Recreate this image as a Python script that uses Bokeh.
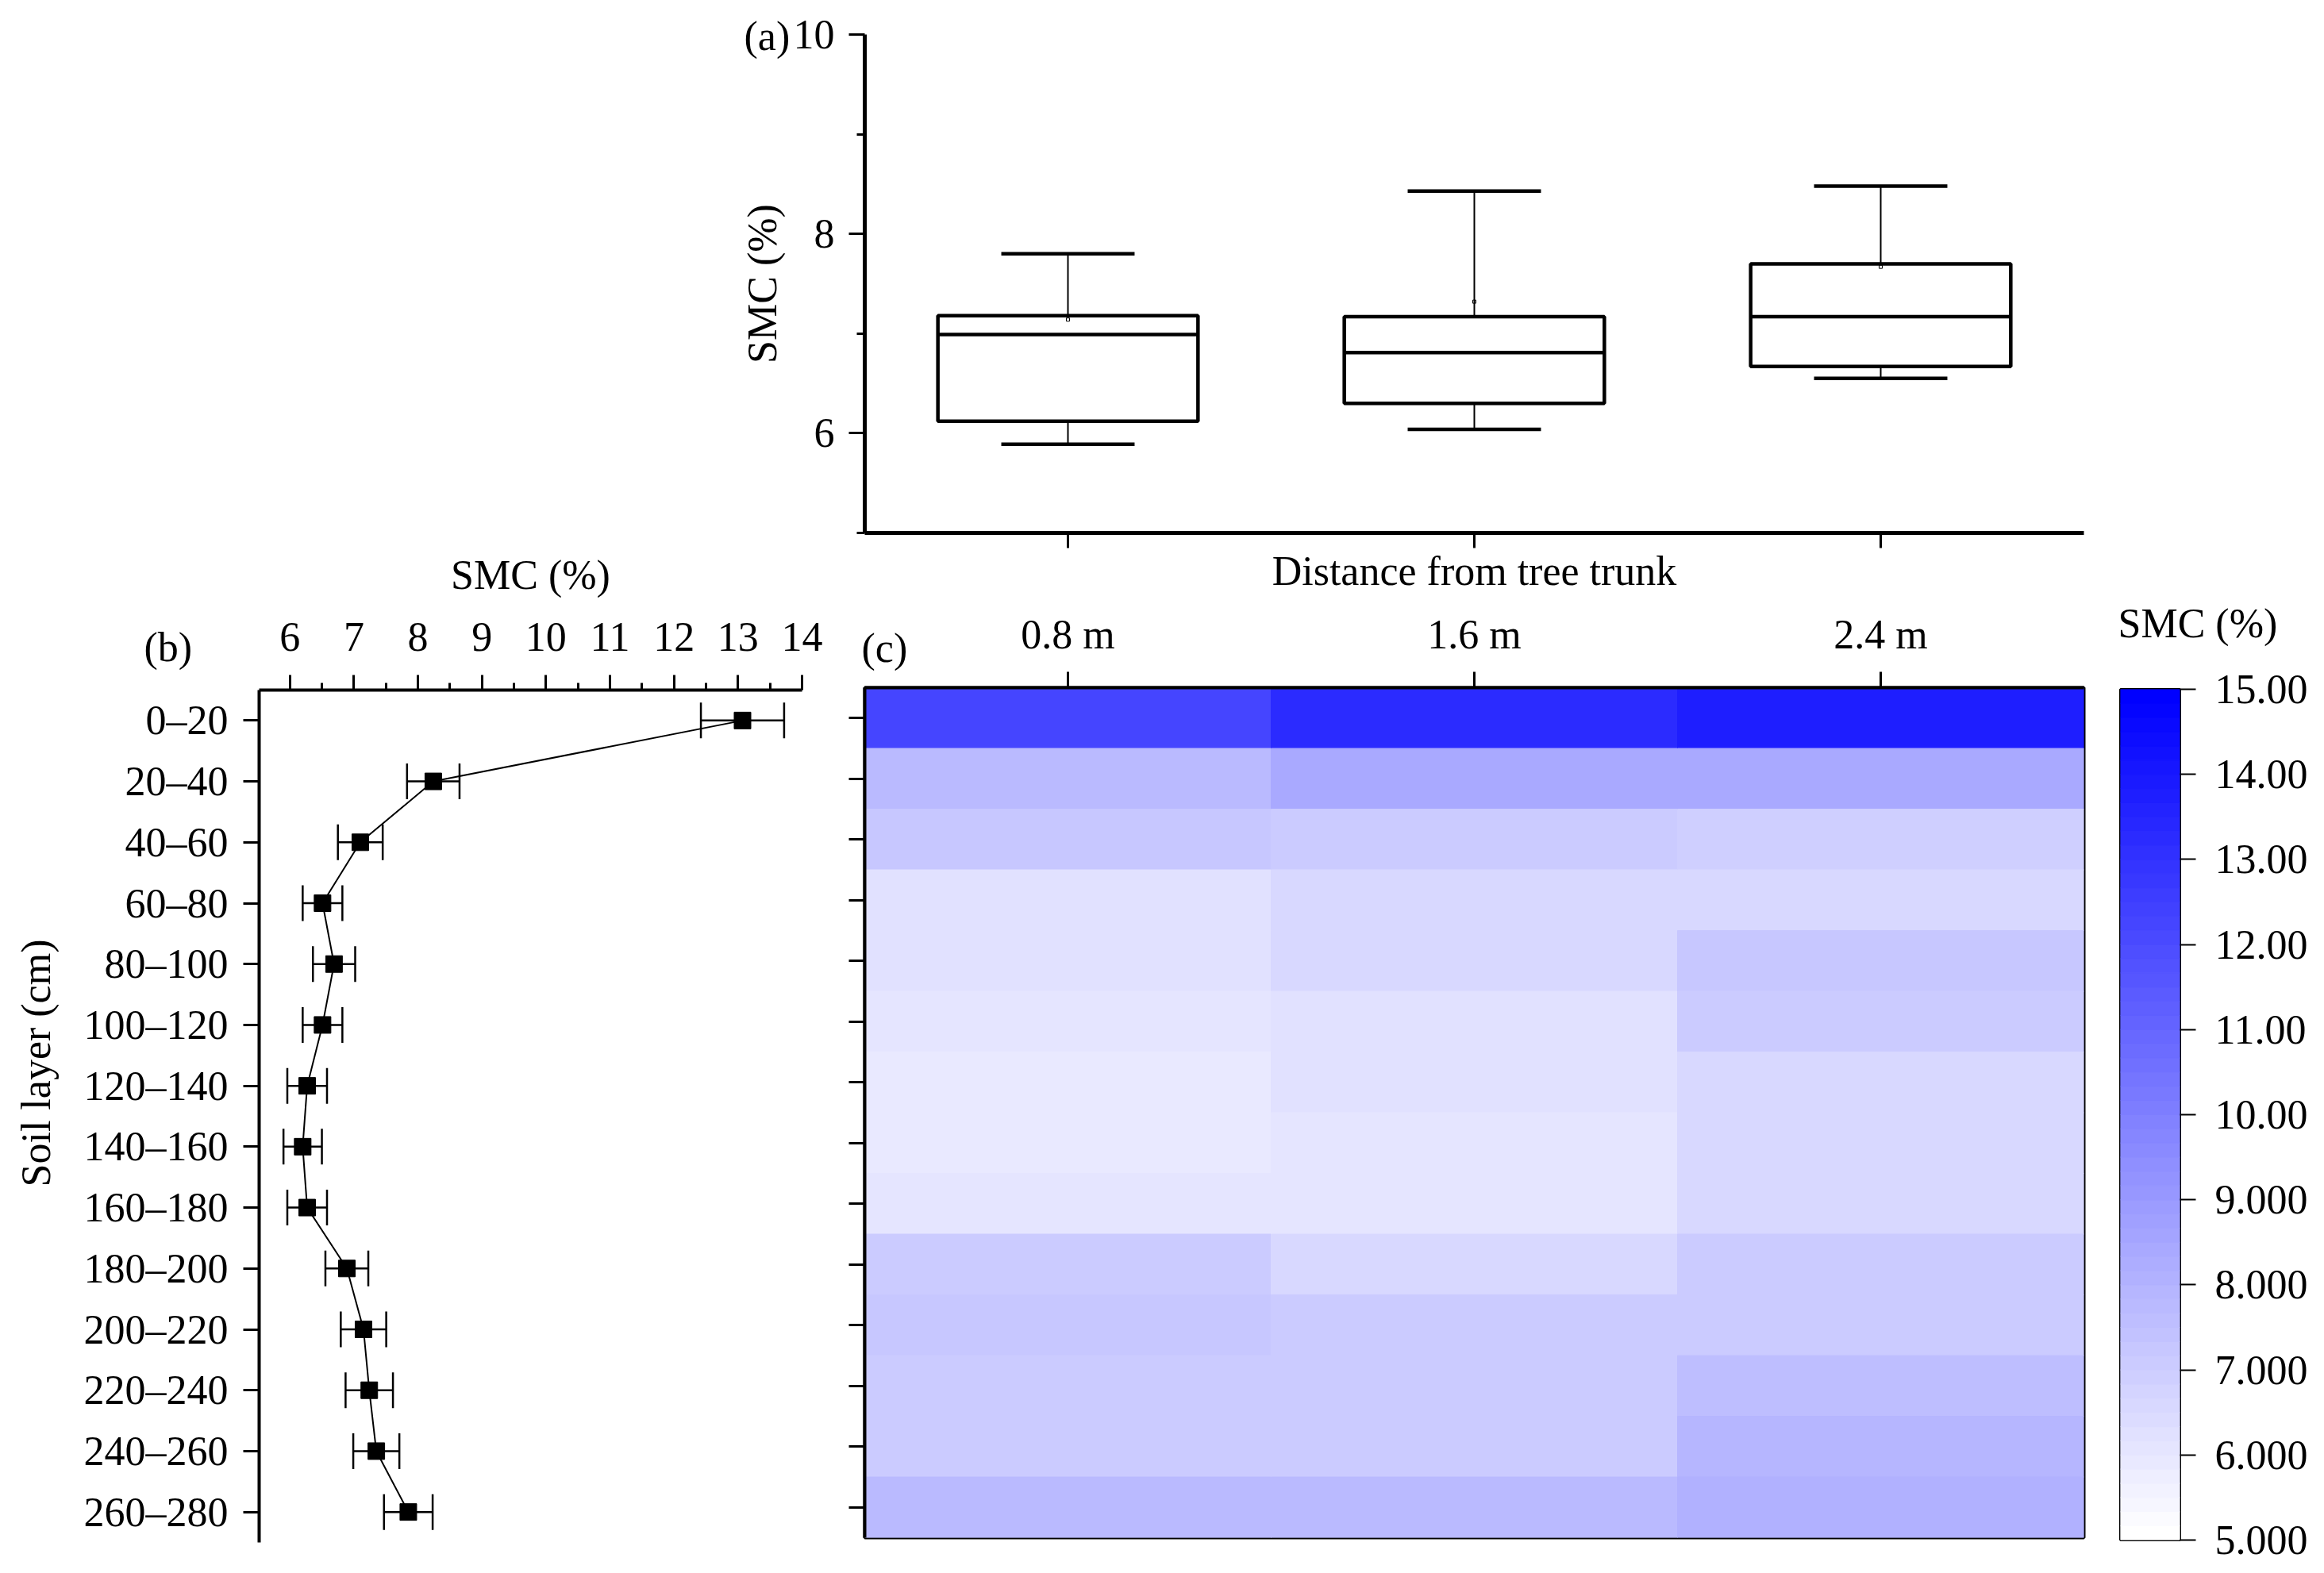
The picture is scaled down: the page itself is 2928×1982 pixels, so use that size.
import numpy as np
from bokeh.plotting import figure
from bokeh.models import (FactorRange, Range1d, FixedTicker, Label, ColumnDataSource,
                          LinearColorMapper, Whisker, TeeHead)
from bokeh.transform import dodge
from bokeh.layouts import column, row
from bokeh.embed import file_html
from bokeh.resources import INLINE

FONT = "Liberation Serif"
FS = "52px"
W, H = 2920, 1975          # every panel is a transparent full-page canvas

# ---------------- data ----------------
distances = ["0.8 m", "1.6 m", "2.4 m"]

# (a) box plot per distance
box_min = [5.89, 6.04, 6.55]
box_q1 = [6.12, 6.30, 6.67]
box_median = [6.99, 6.81, 7.17]
box_q3 = [7.18, 7.17, 7.70]
box_max = [7.80, 8.43, 8.48]
box_mean = [7.14, 7.32, 7.67]

# (b) mean SMC per soil layer with error
layers = ["0–20", "20–40", "40–60", "60–80", "80–100", "100–120", "120–140",
          "140–160", "160–180", "180–200", "200–220", "220–240", "240–260", "260–280"]
layer_mean = [13.07, 8.24, 7.10, 6.51, 6.69, 6.51, 6.27, 6.20, 6.27, 6.89, 7.15, 7.24, 7.35, 7.85]
layer_err = [0.65, 0.41, 0.35, 0.31, 0.33, 0.31, 0.31, 0.30, 0.31, 0.335, 0.355, 0.37, 0.36, 0.38]

# (c) heat map values (rows = layers, one list per distance)
smc_08 = [12.2, 7.8, 7.3, 6.25, 6.2, 6.15, 5.9, 5.9, 6.05, 7.0, 7.3, 7.05, 7.15, 7.8]
smc_16 = [13.3, 8.4, 7.1, 6.6, 6.55, 6.25, 6.25, 6.1, 6.1, 6.55, 7.0, 7.05, 7.15, 7.8]
smc_24 = [13.75, 8.4, 6.85, 6.6, 7.25, 7.15, 6.55, 6.55, 6.6, 7.15, 7.15, 7.65, 7.85, 8.05]

# axis ticks
a_ticks = [6, 8, 10]
a_minor = [5, 7, 9]
b_ticks = [6, 7, 8, 9, 10, 11, 12, 13, 14]
b_minor = [5.5, 6.5, 7.5, 8.5, 9.5, 10.5, 11.5, 12.5, 13.5]
cb_low, cb_high = 5, 15
cb_ticks = [5, 6, 7, 8, 9, 10, 11, 12, 13, 14, 15]
cb_labels = ["5.000", "6.000", "7.000", "8.000", "9.000", "10.00",
             "11.00", "12.00", "13.00", "14.00", "15.00"]

# colour scale white -> blue in discrete steps
N_STEPS = 60
palette = []
for i in range(N_STEPS):
    t = i / (N_STEPS - 1)
    c = int(round(255 * (1 - t)))
    palette.append("#%02x%02x%02x" % (c, c, 255))
mapper = LinearColorMapper(palette=palette, low=cb_low, high=cb_high)


def make_fig(frame_left, frame_top, frame_w, frame_h, **kw):
    p = figure(width=W, height=H, output_backend="svg", toolbar_location=None,
               min_border_left=frame_left, min_border_top=frame_top,
               min_border_right=W - frame_left - frame_w,
               min_border_bottom=H - frame_top - frame_h, **kw)
    p.border_fill_color = None
    p.background_fill_color = None
    p.xgrid.visible = False
    p.ygrid.visible = False
    return p


def style_axis(ax, tick_out=20, line_w=4):
    ax.axis_line_width = line_w
    ax.axis_line_color = "black"
    ax.major_tick_out = tick_out
    ax.major_tick_in = 0
    ax.major_tick_line_width = 3
    ax.major_tick_line_color = "black"
    ax.minor_tick_in = 0
    ax.minor_tick_line_width = 3
    ax.major_label_text_font = FONT
    ax.major_label_text_font_size = FS
    ax.major_label_text_color = "black"
    ax.axis_label_text_font = FONT
    ax.axis_label_text_font_size = FS
    ax.axis_label_text_font_style = "normal"
    ax.axis_label_text_color = "black"


def text_label(**kw):
    return Label(text_font=FONT, text_font_size=FS, text_color="black", **kw)


# ---------------- (a) box plot ----------------
pa = make_fig(1089, 43, 1536, 628,
              x_range=FactorRange(factors=distances), y_range=Range1d(5, 10))
pa.outline_line_color = None
style_axis(pa.yaxis[0], line_w=5)
pa.yaxis.ticker = FixedTicker(ticks=a_ticks, minor_ticks=a_minor)
pa.yaxis.minor_tick_out = 10
pa.yaxis.major_label_standoff = 18
pa.yaxis.axis_label = "SMC (%)"
pa.yaxis.axis_label_standoff = 8
style_axis(pa.xaxis[0], tick_out=19, line_w=5)
pa.xaxis.major_label_text_font_size = "1px"
pa.xaxis.major_label_text_color = None
pa.xaxis.major_label_standoff = 0
pa.xaxis.axis_label = "Distance from tree trunk"
pa.xaxis.axis_label_standoff = 0

src_a = ColumnDataSource(dict(d=distances, lo=box_min, q1=box_q1, med=box_median,
                              q3=box_q3, hi=box_max, mean=box_mean))
pa.segment(x0="d", y0="q3", x1="d", y1="hi", source=src_a, line_color="black", line_width=2)
pa.segment(x0="d", y0="lo", x1="d", y1="q1", source=src_a, line_color="black", line_width=2)
pa.vbar(x="d", width=0.64, bottom="q1", top="q3", source=src_a,
        fill_color="white", line_color="black", line_width=4.5)
pa.segment(x0=dodge("d", -0.32, range=pa.x_range), y0="med",
           x1=dodge("d", 0.32, range=pa.x_range), y1="med",
           source=src_a, line_color="black", line_width=4.5)
for col in ("hi", "lo"):
    pa.segment(x0=dodge("d", -0.164, range=pa.x_range), y0=col,
               x1=dodge("d", 0.164, range=pa.x_range), y1=col,
               source=src_a, line_color="black", line_width=4.5)
pa.scatter(x="d", y="mean", source=src_a, marker="square", size=4,
           fill_color=None, line_color="black", line_width=1)
pa.add_layout(text_label(x=0, y=10, x_offset=-152, y_offset=-2, text="(a)",
                         text_align="left", text_baseline="middle"), "below")

# ---------------- (b) profile ----------------
pb = make_fig(326, 869, 684, 1074, x_range=Range1d(5.52, 14),
              y_range=FactorRange(factors=layers[::-1]), x_axis_location="above")
pb.outline_line_color = None
style_axis(pb.xaxis[0], tick_out=19)
pb.xaxis.ticker = FixedTicker(ticks=b_ticks, minor_ticks=b_minor)
pb.xaxis.minor_tick_out = 9
pb.xaxis.major_label_standoff = 31
pb.xaxis.axis_label = "SMC (%)"
pb.xaxis.axis_label_standoff = 29
style_axis(pb.yaxis[0])
pb.yaxis.major_label_standoff = 19

src_b = ColumnDataSource(dict(layer=layers, m=layer_mean,
                              lo=[m - e for m, e in zip(layer_mean, layer_err)],
                              hi=[m + e for m, e in zip(layer_mean, layer_err)]))
pb.add_layout(Whisker(base="layer", lower="lo", upper="hi", dimension="width", source=src_b,
                      line_color="black", line_width=2.5,
                      lower_head=TeeHead(size=45, line_width=2.5, line_color="black"),
                      upper_head=TeeHead(size=45, line_width=2.5, line_color="black")))
pb.line(x="m", y="layer", source=src_b, line_color="black", line_width=2)
pb.scatter(x="m", y="layer", source=src_b, marker="square", size=21,
           fill_color="black", line_color="black")
pb.add_layout(text_label(x=5.52, y=14, x_offset=-145, y_offset=54, text="(b)",
                         text_align="left", text_baseline="middle"), "right")
pb.add_layout(text_label(x=5.52, y=7, x_offset=-281, y_offset=67, angle=np.pi / 2,
                         text="Soil layer (cm)", text_align="center",
                         text_baseline="middle"), "right")

# ---------------- (c) heat map ----------------
pc = make_fig(1089, 866, 1536, 1071, x_range=FactorRange(factors=distances),
              y_range=FactorRange(factors=layers[::-1]), x_axis_location="above")
pc.outline_line_color = "black"
pc.outline_line_width = 4
style_axis(pc.xaxis[0])
pc.xaxis.major_label_standoff = 19
style_axis(pc.yaxis[0])
pc.yaxis.major_label_text_font_size = "1px"
pc.yaxis.major_label_text_color = None
pc.yaxis.major_label_standoff = 0

cells_d, cells_l, cells_v = [], [], []
for d, vals in zip(distances, (smc_08, smc_16, smc_24)):
    for lay, v in zip(layers, vals):
        cells_d.append(d)
        cells_l.append(lay)
        cells_v.append(v)
src_c = ColumnDataSource(dict(d=cells_d, layer=cells_l, smc=cells_v))
pc.rect(x="d", y="layer", width=1, height=1, source=src_c,
        fill_color={"field": "smc", "transform": mapper},
        line_color={"field": "smc", "transform": mapper}, line_width=1)
pc.add_layout(text_label(x=0, y=14, x_offset=-4, y_offset=50, text="(c)",
                         text_align="left", text_baseline="middle"), "right")

# ---------------- colour bar ----------------
pcb = make_fig(2671, 868, 75, 1072, x_range=Range1d(0, 1), y_range=Range1d(cb_low, cb_high),
               x_axis_location=None, y_axis_location="right")
pcb.outline_line_color = "black"
pcb.outline_line_width = 3
style_axis(pcb.yaxis[0])
pcb.yaxis.axis_line_color = None
pcb.yaxis.major_tick_line_width = 2
pcb.yaxis.minor_tick_line_color = None
pcb.yaxis.ticker = FixedTicker(ticks=cb_ticks)
pcb.yaxis.major_label_overrides = {t: lab for t, lab in zip(cb_ticks, cb_labels)}
pcb.yaxis.major_label_standoff = 24
levels = np.linspace(cb_low, cb_high, N_STEPS + 1)
pcb.quad(left=0, right=1, bottom=levels[:-1], top=levels[1:],
         fill_color=palette, line_color=palette, line_width=1)
pcb.add_layout(text_label(x=0, y=cb_high, x_offset=-3, y_offset=83, text="SMC (%)",
                          text_align="left", text_baseline="alphabetic"), "left")

# each canvas is wrapped in its own row so that frames are not aligned with each other;
# the rows overlap completely (transparent canvases stacked on one page)
layout = column(row(pa),
                row(pb, margin=(-H, 0, 0, 0)),
                row(pc, margin=(-H, 0, 0, 0)),
                row(pcb, margin=(-H, 0, 0, 0)))
open("out.html", "w").write(file_html(layout, INLINE))
